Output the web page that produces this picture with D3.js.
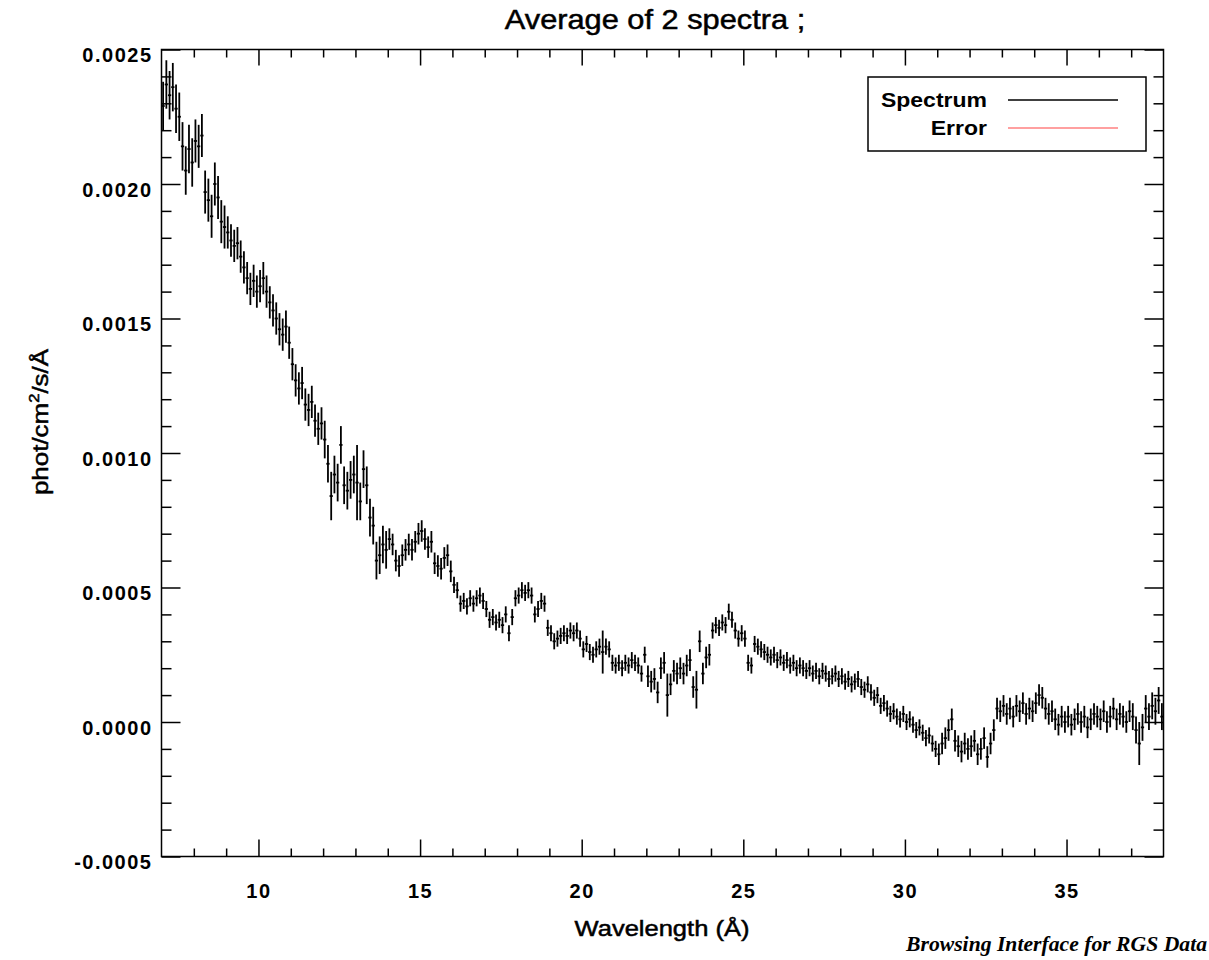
<!DOCTYPE html>
<html><head><meta charset="utf-8">
<script src="https://cdn.jsdelivr.net/npm/d3@7"></script>
<style>body{margin:0;background:#fff} svg{display:block}</style>
</head><body><svg id="c" width="1209" height="960"></svg>
<script>
// ---------- DATA ----------
const title = "Average of 2 spectra ;";
const xTitle = "Wavelength (Å)";
const footer = "Browsing Interface for RGS Data";
const legendLabels = ["Spectrum", "Error"];
const legendColors = ["#000000", "#ff8080"];

const xMajorTicks = [10, 15, 20, 25, 30, 35];
const xMinorTicks = [8, 9, 11, 12, 13, 14, 16, 17, 18, 19, 21, 22, 23, 24, 26, 27, 28, 29, 31, 32, 33, 34, 36, 37];
const yMajorTicks = [-0.0005, 0, 0.0005, 0.0010, 0.0015, 0.0020, 0.0025];
const yMinorTicks = [-0.0004, -0.0003, -0.0002, -0.0001, 0.0001, 0.0002, 0.0003, 0.0004,
  0.0006, 0.0007, 0.0008, 0.0009, 0.0011, 0.0012, 0.0013, 0.0014, 0.0016, 0.0017, 0.0018, 0.0019,
  0.0021, 0.0022, 0.0023, 0.0024];

// wavelength grid: first bin centre and bin width (Å)
const firstBinCentre = 7.05, binWidth = 0.1;

// flux per bin, in units of 1e-5 phot/cm²/s/Å (one row per Å, 7..37)
const fluxE5 = [
  229, 237, 233, 236, 228, 225, 214, 205, 213, 208,
  216, 214, 218, 197, 194, 188, 200, 195, 186, 184,
  182, 179, 177, 178, 173, 169, 165, 161, 164, 160,
  162, 165, 160, 156, 153, 150, 146, 144, 147, 141,
  133, 127, 124, 126, 118, 116, 119, 112, 109, 111,
  105, 96, 84, 92, 89, 103, 88, 86, 90, 92,
  89, 82, 94, 88, 76, 73, 60, 62, 66, 64,
  68, 66, 60, 58, 62, 64, 66, 64, 67, 70,
  71, 68, 65, 67, 59, 58, 57, 61, 62, 56,
  51, 49, 44, 45, 43, 46, 44, 46, 47, 45,
  42, 38, 39, 37, 38, 36, 40, 33, 39, 46,
  47, 49, 48, 49, 47, 40, 42, 45, 44, 35,
  33, 30, 31, 32, 33, 32, 34, 33, 34, 31,
  27, 29, 26, 25, 27, 28, 26, 28, 27, 22,
  21, 22, 20, 22, 21, 23, 22, 21, 18, 25,
  17, 15, 16, 11, 20, 22, 10, 14, 19, 18,
  20, 18, 21, 23, 13, 12, 30, 18, 24, 25,
  34, 36, 35, 37, 36, 41, 38, 34, 31, 33,
  31, 22, 21, 29, 28, 27, 26, 25, 24, 25,
  23, 24, 22, 23, 21, 22, 20, 21, 20, 19,
  20, 18, 19, 17, 19, 18, 16, 17, 18, 16,
  17, 15, 16, 14, 15, 16, 13, 12, 14, 11,
  9, 10, 6, 7, 5, 3, 4, 2, 1, 3,
  0, 1, -1, -3, -2, -4, -6, -5, -8, -10,
  -12, -8, -6, -3, 1, -7, -9, -11, -8, -10,
  -9, -7, -12, -10, -6, -13, -8, -3, 5, 4,
  6, 3, 5, 2, 6, 4, 7, 3, 5, 4,
  7, 10, 9, 5, 3, 4, 1, -1, 2, 0,
  2, -1, 1, 3, 0, 2, -2, 1, 3, 2,
  1, 4, 0, 2, 5, 1, 3, 2, 0, 4,
  2, -3, -8, -2, 5, 2, 6, 4, 8, 2
];
// typical 1-sigma error (1e-5 units) for each Å (7..37)
const errE5ByAngstrom = [9, 8, 6, 6, 6, 7, 7, 4, 4, 3, 3, 3, 3, 3, 3, 4, 4, 3, 3, 3, 3, 3, 3, 3, 4, 4, 4, 4, 4, 4, 5];
// bins with noticeably larger errors: [bin centre Å, error 1e-5]
const errE5Overrides = [[13.05, 14], [20.65, 8], [22.65, 8], [23.55, 7], [37.25, 8], [12.25, 9]];

// ---------- CHART ----------
const svg = d3.select("#c");
const x = d3.scaleLinear().domain([7, 38]).range([161.5, 1163.5]);
const y = d3.scaleLinear().domain([-0.0005, 0.0025]).range([856.5, 49.5]);
const font = "'Liberation Sans', Arial, Helvetica, sans-serif";

const data = fluxE5.map((v, i) => {
  const c = +(firstBinCentre + i * binWidth).toFixed(2);
  const ov = errE5Overrides.find(o => Math.abs(o[0] - c) < 1e-6);
  const e = ov ? ov[1] : errE5ByAngstrom[Math.floor(c) - 7];
  return { c, v: v * 1e-5, e: e * 1e-5 };
});

const g = svg.append("g");
g.selectAll("line.v").data(data).join("line")
  .attr("x1", d => x(d.c)).attr("x2", d => x(d.c))
  .attr("y1", d => y(d.v - d.e)).attr("y2", d => y(d.v + d.e))
  .attr("stroke", legendColors[0]).attr("stroke-width", 1.8);
g.selectAll("line.h").data(data).join("line")
  .attr("x1", d => x(d.c - binWidth / 2)).attr("x2", d => x(d.c + binWidth / 2))
  .attr("y1", d => y(d.v)).attr("y2", d => y(d.v))
  .attr("stroke", legendColors[0]).attr("stroke-width", 1.8);

// axes
const fmtY = d => d3.format(".4f")(d).replace("\u2212", "-");
function styleAxis(sel) {
  sel.select(".domain").remove();
  sel.selectAll(".tick line").attr("stroke", "#000").attr("stroke-width", 1.5);
}
const B = 856.5, T = 49.5, L = 161.5, R = 1163.5;
svg.append("g").attr("transform", `translate(0,${B})`)
  .call(d3.axisBottom(x).tickValues(xMajorTicks).tickSize(-17).tickFormat(d3.format("d")).tickPadding(27))
  .call(styleAxis)
  .call(s => s.selectAll("text").attr("font-family", font).attr("font-weight", "bold")
    .attr("font-size", 20).attr("fill", "#000").attr("letter-spacing", 1.5));
svg.append("g").attr("transform", `translate(0,${B})`)
  .call(d3.axisBottom(x).tickValues(xMinorTicks).tickSize(-8).tickFormat("")).call(styleAxis);
svg.append("g").attr("transform", `translate(0,${T})`)
  .call(d3.axisTop(x).tickValues(xMajorTicks).tickSize(-16).tickFormat("")).call(styleAxis);
svg.append("g").attr("transform", `translate(0,${T})`)
  .call(d3.axisTop(x).tickValues(xMinorTicks).tickSize(-8).tickFormat("")).call(styleAxis);

svg.append("g").attr("transform", `translate(${L},0)`)
  .call(d3.axisLeft(y).tickValues(yMajorTicks).tickSize(-19).tickFormat(fmtY).tickPadding(9))
  .call(styleAxis)
  .call(s => s.selectAll("text").attr("font-family", font).attr("font-weight", "bold")
    .attr("font-size", 20).attr("fill", "#000").attr("letter-spacing", 1.5).attr("dy", "0.6em"));
svg.append("g").attr("transform", `translate(${L},0)`)
  .call(d3.axisLeft(y).tickValues(yMinorTicks).tickSize(-10).tickFormat("")).call(styleAxis);
svg.append("g").attr("transform", `translate(${R},0)`)
  .call(d3.axisRight(y).tickValues(yMajorTicks).tickSize(-19).tickFormat("")).call(styleAxis);
svg.append("g").attr("transform", `translate(${R},0)`)
  .call(d3.axisRight(y).tickValues(yMinorTicks).tickSize(-10).tickFormat("")).call(styleAxis);

// frame
svg.append("rect").attr("x", L).attr("y", T).attr("width", R - L).attr("height", B - T)
  .attr("fill", "none").attr("stroke", "#000").attr("stroke-width", 1.5);

// titles (horizontally stretched glyphs, like the original wide Helvetica)
svg.append("text").attr("transform", "translate(655,29) scale(1.14,1)").attr("text-anchor", "middle")
  .attr("font-family", font).attr("font-size", 27).attr("stroke", "#000").attr("stroke-width", 0.5)
  .text(title);
svg.append("text").attr("transform", "translate(662,936) scale(1.16,1)").attr("text-anchor", "middle")
  .attr("font-family", font).attr("font-size", 22).attr("stroke", "#000").attr("stroke-width", 0.5)
  .text(xTitle);
const yt = svg.append("text").attr("transform", "translate(48,422) rotate(-90) scale(1.18,1)").attr("text-anchor", "middle")
  .attr("font-family", font).attr("font-size", 22).attr("stroke", "#000").attr("stroke-width", 0.5);
yt.append("tspan").text("phot/cm");
yt.append("tspan").attr("dy", -9).attr("font-size", 14).text("2");
yt.append("tspan").attr("dy", 9).text("/s/Å");

svg.append("text").attr("x", 1207).attr("y", 951).attr("text-anchor", "end")
  .attr("font-family", "'Liberation Serif', 'Times New Roman', serif").attr("font-style", "italic")
  .attr("font-weight", "bold").attr("font-size", 20).attr("textLength", 301).attr("lengthAdjust", "spacingAndGlyphs")
  .text(footer);

// legend
const lg = svg.append("g");
lg.append("rect").attr("x", 868).attr("y", 77).attr("width", 278).attr("height", 74)
  .attr("fill", "#fff").attr("stroke", "#000").attr("stroke-width", 1.5);
legendLabels.forEach((lab, i) => {
  const yy = 100 + i * 28;
  lg.append("text").attr("transform", `translate(987,${yy}) scale(1.15,1)`).attr("dy", "0.36em").attr("text-anchor", "end")
    .attr("font-family", font).attr("font-weight", "bold").attr("font-size", 20).text(lab);
  lg.append("line").attr("x1", 1008).attr("x2", 1118).attr("y1", yy).attr("y2", yy)
    .attr("stroke", legendColors[i]).attr("stroke-width", 1.3);
});
</script></body></html>
